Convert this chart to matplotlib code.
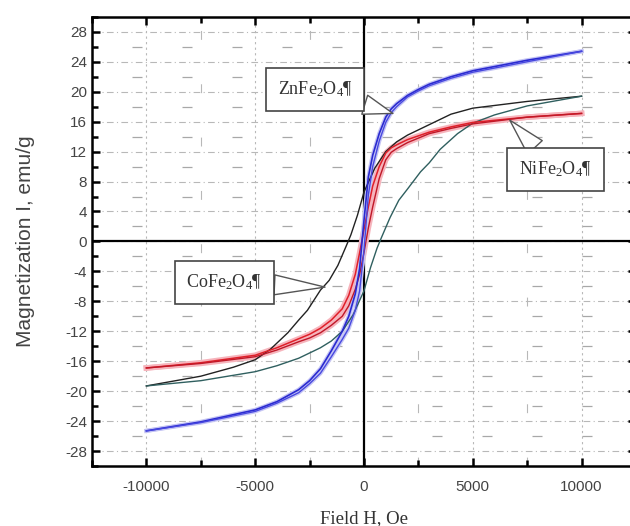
import numpy as np
import matplotlib.pyplot as plt
from matplotlib.ticker import MultipleLocator

# field values (Oe) for the ferrites with narrow loops
h_narrow = [-10000, -7500, -5000, -4000, -3000, -2500, -2000, -1500, -1000, -700, -400, -200,
            0, 200, 400, 700, 1000, 1250, 1500, 2000, 2500, 3000, 4000, 5000, 7500, 10000]

zn_down = [-25.3, -24.1, -22.5, -21.4, -19.8, -18.6, -17.0, -14.6, -12.0, -10.0, -7.0, -3.6,
           2.8, 8.6, 11.5, 14.4, 16.6, 17.7, 18.4, 19.5, 20.3, 21.0, 22.0, 22.8, 24.2, 25.4]
zn_up = [-25.3, -24.2, -22.7, -21.6, -20.2, -19.0, -17.6, -15.4, -13.1, -11.6, -9.2, -6.6,
         -1.2, 6.2, 10.0, 13.4, 15.9, 17.2, 18.0, 19.3, 20.1, 20.8, 21.8, 22.6, 24.0, 25.4]

ni_down = [-16.9, -16.2, -15.2, -14.2, -13.0, -12.4, -11.6, -10.5, -9.0, -7.2, -4.4, -1.5,
           1.6, 4.6, 7.4, 10.0, 11.8, 12.5, 12.9, 13.6, 14.1, 14.6, 15.3, 15.9, 16.6, 17.1]
ni_up = [-16.9, -16.3, -15.4, -14.5, -13.4, -12.9, -12.2, -11.2, -10.0, -8.6, -6.4, -4.4,
         -1.5, 1.8, 4.6, 8.4, 10.9, 11.9, 12.4, 13.2, 13.8, 14.4, 15.1, 15.7, 16.6, 17.1]

# CoFe2O4 wide loop
h_co_down = [10000, 7500, 5000, 4000, 3000, 2000, 1500, 1000, 500, 0, -300, -600, -800,
             -1200, -1600, -2000, -2600, -3000, -3500, -4300, -5000, -6000, -7500, -10000]
co_down = [19.4, 18.7, 17.8, 17.0, 15.6, 14.2, 13.3, 12.0, 9.8, 6.6, 3.5, 0.9, -0.5,
           -3.2, -5.2, -6.5, -9.2, -10.5, -12.2, -14.4, -15.8, -16.8, -18.0, -19.3]
h_co_up = [-10000, -7500, -5000, -4000, -3000, -2000, -1500, -1000, -500, 0, 300, 600, 800,
           1200, 1600, 2000, 2600, 3000, 3500, 4300, 5000, 6000, 7500, 10000]
co_up = [-19.3, -18.6, -17.4, -16.6, -15.6, -14.2, -13.3, -12.0, -9.8, -6.6, -3.5, -0.9, 0.5,
         3.2, 5.5, 7.0, 9.3, 10.5, 12.3, 14.4, 15.8, 16.9, 18.1, 19.4]

plt.rcParams['font.family'] = ['Liberation Sans', 'DejaVu Sans']
plt.rcParams['axes.unicode_minus'] = False
plt.rcParams['mathtext.fontset'] = 'custom'
plt.rcParams['mathtext.rm'] = 'Liberation Serif'
plt.rcParams['mathtext.it'] = 'Liberation Serif:italic'

fig = plt.figure(figsize=(6.3, 5.26), dpi=100)
ax = fig.add_axes([0.146, 0.114, 0.8635, 0.854])

# grid lines
for y in range(-28, 29, 4):
    ax.axhline(y, color='#b8b8b8', lw=0.8, ls=(0, (6, 3, 1, 3)), zorder=0)
for y in range(-26, 29, 4):
    ax.axhline(y, color='#a8a8a8', lw=0.9, ls=(8, (8, 32)), zorder=0)
for x in [-10000, -5000, 5000, 10000]:
    ax.axvline(x, color='#b8b8b8', lw=0.8, ls=(0, (2, 3)), zorder=0)
for x in [-7500, -2500, 2500, 7500]:
    ax.axvline(x, color='#b8b8b8', lw=0.8, ls=(0, (8, 40)), zorder=0)
ax.axhline(0, color='black', lw=1.6, zorder=1)
ax.axvline(0, color='black', lw=1.6, zorder=1)

# halos
ax.plot(h_narrow, ni_down, color='#f6b4bc', lw=4, zorder=2)
ax.plot(h_narrow, ni_up, color='#f6b4bc', lw=4, zorder=2)
ax.plot(h_narrow, zn_down, color='#c4c4f4', lw=3, zorder=2)
ax.plot(h_narrow, zn_up, color='#c4c4f4', lw=3, zorder=2)

ax.plot(h_co_down, co_down, color='#222222', lw=1.0, zorder=3)
ax.plot(h_co_up, co_up, color='#2f5f5f', lw=1.0, zorder=3)
ax.plot(h_narrow, ni_down, color='#e0202a', lw=1.1, zorder=4)
ax.plot(h_narrow, ni_up, color='#c01828', lw=1.0, zorder=4)
ax.plot(h_narrow, zn_down, color='#2a2ad0', lw=1.2, zorder=4)
ax.plot(h_narrow, zn_up, color='#4848e0', lw=1.0, zorder=4)

ax.set_xlim(-12500, 12500)
ax.set_ylim(-30, 30)
ax.xaxis.set_major_locator(MultipleLocator(5000))
ax.xaxis.set_minor_locator(MultipleLocator(2500))
ax.set_yticks(range(-28, 29, 4))
ax.yaxis.set_minor_locator(MultipleLocator(2))
ax.tick_params(which='both', direction='in', top=True, right=True,
               labelsize=11, labelcolor='#444444', width=1.8)
ax.tick_params(which='major', length=6)
ax.tick_params(which='minor', length=4)
ax.tick_params(axis='x', pad=10)
for s in ax.spines.values():
    s.set_linewidth(1.8)

ax.set_xlabel('Field H, Oe', family='Liberation Serif', fontsize=13.5, color='#333333')
ax.set_ylabel('Magnetization I, emu/g', fontsize=15, color='#444444')
ax.xaxis.set_label_coords(0.5, -0.097)
ax.yaxis.set_label_coords(-0.105, 0.5)

box = dict(boxstyle='square,pad=0.65', fc='white', ec='#444444', lw=1.2)
arrow = dict(arrowstyle='wedge,tail_width=1.1', fc='white', ec='#555555', lw=1.0,
             shrinkA=0, shrinkB=0)
ax.annotate('ZnFe$_2$O$_4$¶', xy=(1330, 17.1), xytext=(-2250, 20.3), ha='center', va='center',
            family='Liberation Serif', fontsize=13, color='#333333', bbox=box,
            arrowprops=arrow, zorder=6)
ax.annotate('NiFe$_2$O$_4$¶', xy=(6700, 16.2), xytext=(8800, 9.6), ha='center', va='center',
            family='Liberation Serif', fontsize=13, color='#333333', bbox=box,
            arrowprops=arrow, zorder=6)
ax.annotate('CoFe$_2$O$_4$¶', xy=(-1790, -6.1), xytext=(-6420, -5.5), ha='center', va='center',
            family='Liberation Serif', fontsize=13, color='#333333', bbox=box,
            arrowprops=arrow, zorder=6)

plt.savefig('out.png', dpi=100)
